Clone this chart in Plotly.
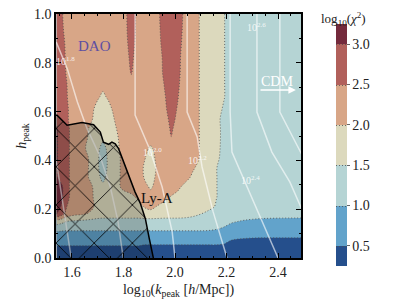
import plotly.graph_objects as go

# grid of log10(k_peak) and h_peak
k_peak = [1.54, 1.56, 1.58, 1.61, 1.64, 1.67, 1.70, 1.72, 1.74, 1.77, 1.80, 1.83, 1.86, 1.88, 1.905,
          1.93, 1.96, 1.985, 2.01, 2.04, 2.07, 2.10, 2.13, 2.16, 2.19, 2.22, 2.27, 2.33, 2.40, 2.49]
h_peak = [0.0, 0.03, 0.06, 0.09, 0.12, 0.15, 0.18, 0.21, 0.25, 0.29, 0.33, 0.37, 0.41, 0.45, 0.49,
          0.53, 0.57, 0.61, 0.66, 0.71, 0.76, 0.82, 0.88, 0.94, 1.0]

# log10(chi^2), one row per h_peak value (bottom to top)
log_chi2 = [
    [0.2, 0.2, 0.2, 0.2, 0.2, 0.2, 0.2, 0.2, 0.2, 0.2, 0.2, 0.2, 0.2, 0.2, 0.2, 0.2, 0.2, 0.2, 0.2, 0.2, 0.2, 0.2, 0.2, 0.2, 0.2, 0.2, 0.2, 0.2, 0.2, 0.2],
    [0.3, 0.3, 0.3, 0.3, 0.3, 0.3, 0.3, 0.3, 0.3, 0.3, 0.3, 0.3, 0.3, 0.3, 0.3, 0.3, 0.3, 0.3, 0.3, 0.3, 0.3, 0.3, 0.3, 0.3, 0.3, 0.3, 0.3, 0.3, 0.3, 0.3],
    [0.6, 0.6, 0.6, 0.6, 0.6, 0.6, 0.6, 0.6, 0.6, 0.6, 0.6, 0.6, 0.6, 0.55, 0.55, 0.55, 0.55, 0.55, 0.55, 0.55, 0.55, 0.55, 0.55, 0.55, 0.52, 0.42, 0.38, 0.35, 0.35, 0.35],
    [0.75, 0.75, 0.75, 0.75, 0.75, 0.75, 0.75, 0.75, 0.75, 0.75, 0.75, 0.75, 0.75, 0.75, 0.75, 0.75, 0.75, 0.75, 0.75, 0.75, 0.75, 0.75, 0.75, 0.72, 0.68, 0.6, 0.56, 0.55, 0.55, 0.55],
    [1.15, 1.12, 1.1, 1.1, 1.1, 1.1, 1.1, 1.1, 1.1, 1.1, 1.1, 1.1, 1.1, 1.1, 1.1, 1.1, 1.1, 1.1, 1.1, 1.1, 1.1, 1.1, 1.08, 1.03, 0.95, 0.82, 0.76, 0.72, 0.7, 0.7],
    [1.8, 1.65, 1.5, 1.45, 1.4, 1.35, 1.3, 1.3, 1.3, 1.3, 1.3, 1.3, 1.3, 1.3, 1.3, 1.3, 1.3, 1.3, 1.3, 1.3, 1.3, 1.28, 1.25, 1.22, 1.16, 1.05, 0.95, 0.85, 0.8, 0.78],
    [3.05, 2.7, 2.3, 2.1, 2.05, 1.95, 1.8, 1.75, 1.75, 1.75, 1.75, 1.75, 1.75, 1.8, 1.85, 1.8, 1.75, 1.75, 1.75, 1.7, 1.6, 1.5, 1.35, 1.3, 1.27, 1.25, 1.25, 1.25, 1.25, 1.25],
    [3.2, 2.95, 2.5, 2.25, 2.2, 2.1, 1.9, 1.75, 1.75, 1.75, 1.75, 1.75, 1.85, 2.02, 2.1, 1.98, 1.85, 1.75, 1.75, 1.75, 1.75, 1.75, 1.65, 1.45, 1.3, 1.27, 1.25, 1.25, 1.25, 1.25],
    [3.3, 3.1, 2.6, 2.3, 2.2, 2.1, 1.85, 1.75, 1.75, 1.75, 1.8, 1.9, 2.1, 2.2, 2.25, 2.25, 2.1, 1.98, 1.85, 1.75, 1.75, 1.75, 1.7, 1.52, 1.3, 1.27, 1.25, 1.25, 1.25, 1.25],
    [3.3, 3.1, 2.6, 2.3, 2.2, 2.1, 1.8, 1.6, 1.7, 1.85, 2.1, 2.2, 2.25, 2.2, 1.92, 2.2, 2.2, 2.15, 2.1, 1.85, 1.75, 1.75, 1.75, 1.52, 1.3, 1.27, 1.25, 1.25, 1.25, 1.25],
    [3.05, 2.8, 2.6, 2.3, 2.2, 1.95, 1.6, 1.4, 1.6, 1.8, 2.15, 2.25, 2.25, 1.98, 1.8, 2.1, 2.25, 2.25, 2.2, 2.15, 1.9, 1.8, 1.75, 1.52, 1.3, 1.27, 1.25, 1.25, 1.25, 1.25],
    [3.05, 2.8, 2.6, 2.3, 2.2, 1.95, 1.55, 1.3, 1.55, 1.8, 2.15, 2.25, 2.25, 1.95, 1.75, 2.05, 2.25, 2.3, 2.3, 2.25, 2.05, 1.85, 1.75, 1.52, 1.3, 1.27, 1.25, 1.25, 1.25, 1.25],
    [3.05, 2.8, 2.6, 2.3, 2.2, 1.95, 1.55, 1.3, 1.55, 1.8, 2.15, 2.25, 2.25, 2.05, 1.8, 2.1, 2.25, 2.3, 2.3, 2.3, 2.2, 1.95, 1.75, 1.6, 1.35, 1.3, 1.25, 1.25, 1.25, 1.25],
    [3.05, 2.8, 2.6, 2.3, 2.15, 1.8, 1.6, 1.35, 1.6, 1.85, 2.2, 2.3, 2.3, 2.2, 1.9, 2.2, 2.3, 2.3, 2.3, 2.3, 2.2, 1.95, 1.75, 1.62, 1.38, 1.3, 1.25, 1.25, 1.25, 1.25],
    [3.05, 2.8, 2.6, 2.3, 2.2, 1.9, 1.7, 1.6, 1.7, 1.9, 2.2, 2.3, 2.3, 2.3, 2.3, 2.3, 2.3, 2.49, 2.3, 2.3, 2.2, 1.95, 1.75, 1.62, 1.4, 1.3, 1.25, 1.25, 1.25, 1.25],
    [3.05, 2.8, 2.6, 2.3, 2.2, 1.95, 1.75, 1.75, 1.8, 1.98, 2.2, 2.3, 2.3, 2.3, 2.3, 2.3, 2.35, 2.54, 2.4, 2.3, 2.2, 1.95, 1.75, 1.62, 1.4, 1.3, 1.25, 1.25, 1.25, 1.25],
    [2.85, 2.72, 2.55, 2.3, 2.25, 2.1, 1.8, 1.75, 1.8, 2.05, 2.25, 2.3, 2.3, 2.3, 2.3, 2.3, 2.4, 2.58, 2.45, 2.3, 2.2, 1.95, 1.75, 1.6, 1.4, 1.3, 1.25, 1.25, 1.25, 1.25],
    [2.8, 2.7, 2.55, 2.3, 2.25, 2.15, 1.85, 1.8, 1.85, 2.15, 2.3, 2.3, 2.3, 2.3, 2.3, 2.3, 2.45, 2.62, 2.48, 2.3, 2.2, 1.95, 1.75, 1.65, 1.45, 1.3, 1.25, 1.25, 1.25, 1.25],
    [2.8, 2.7, 2.52, 2.25, 2.25, 2.15, 2.05, 1.92, 2.05, 2.2, 2.3, 2.35, 2.3, 2.3, 2.3, 2.3, 2.48, 2.65, 2.52, 2.3, 2.2, 1.95, 1.75, 1.7, 1.52, 1.3, 1.25, 1.25, 1.25, 1.25],
    [2.8, 2.7, 2.51, 2.25, 2.25, 2.2, 2.15, 2.1, 2.15, 2.25, 2.3, 2.4, 2.3, 2.3, 2.3, 2.3, 2.52, 2.68, 2.56, 2.3, 2.2, 1.95, 1.75, 1.7, 1.52, 1.3, 1.25, 1.25, 1.25, 1.25],
    [2.8, 2.7, 2.45, 2.25, 2.25, 2.25, 2.2, 2.2, 2.2, 2.25, 2.3, 2.52, 2.3, 2.3, 2.3, 2.3, 2.58, 2.72, 2.6, 2.3, 2.2, 1.95, 1.75, 1.7, 1.52, 1.3, 1.25, 1.25, 1.25, 1.25],
    [2.8, 2.68, 2.42, 2.25, 2.25, 2.25, 2.2, 2.2, 2.2, 2.25, 2.3, 2.58, 2.3, 2.3, 2.3, 2.3, 2.6, 2.75, 2.62, 2.3, 2.2, 1.95, 1.75, 1.7, 1.52, 1.3, 1.25, 1.25, 1.25, 1.25],
    [2.8, 2.65, 2.4, 2.25, 2.25, 2.25, 2.2, 2.2, 2.2, 2.25, 2.33, 2.64, 2.33, 2.3, 2.3, 2.35, 2.65, 2.78, 2.65, 2.35, 2.2, 1.95, 1.75, 1.7, 1.52, 1.3, 1.25, 1.25, 1.25, 1.25],
    [2.8, 2.6, 2.3, 2.25, 2.25, 2.25, 2.2, 2.2, 2.2, 2.25, 2.35, 2.68, 2.35, 2.3, 2.3, 2.38, 2.68, 2.8, 2.68, 2.38, 2.2, 1.95, 1.75, 1.7, 1.52, 1.3, 1.25, 1.25, 1.25, 1.25],
    [2.8, 2.55, 2.3, 2.25, 2.25, 2.25, 2.2, 2.2, 2.2, 2.25, 2.35, 2.7, 2.35, 2.3, 2.3, 2.4, 2.7, 2.8, 2.7, 2.4, 2.2, 1.95, 1.75, 1.7, 1.52, 1.3, 1.25, 1.25, 1.25, 1.25],
]

levels = [0.5, 1.0, 1.5, 2.0, 2.5, 3.0]
band_colors = ['#254f8c', '#62a3cb', '#b5d4d4', '#dcd9bd', '#d8a687', '#b1605b', '#742a3c']
x_ticks = [1.6, 1.8, 2.0, 2.2, 2.4]
y_ticks = [0.0, 0.2, 0.4, 0.6, 0.8, 1.0]

# white iso-lines of the second quantity (label, x points, y points)
iso_lines = [
    ("", [1.539, 1.575, 1.597], [0.40, 0.15, 0.0]),
    ("1.8", [1.539, 1.582, 1.621, 1.659, 1.710, 1.749, 1.779, 1.799], [0.885, 0.775, 0.639, 0.529, 0.414, 0.291, 0.148, 0.0]),
    ("2.0", [1.845, 1.845, 1.903, 1.950, 1.989, 2.000], [1.0, 0.586, 0.443, 0.291, 0.107, 0.0]),
    ("2.2", [2.047, 2.047, 2.086, 2.105, 2.148, 2.202], [1.0, 0.598, 0.496, 0.373, 0.189, 0.0]),
    ("2.4", [2.214, 2.214, 2.221, 2.272, 2.357, 2.400], [1.0, 0.598, 0.434, 0.311, 0.107, 0.0]),
    ("2.6", [2.318, 2.318, 2.376, 2.446, 2.492], [1.0, 0.598, 0.434, 0.311, 0.20]),
    ("", [2.407, 2.407, 2.473, 2.492], [1.0, 0.598, 0.463, 0.425]),
]
iso_label_x = [1.574, 1.911, 2.086, 2.292, 2.318]
iso_label_y = [0.807, 0.434, 0.400, 0.320, 0.947]
iso_label_t = ["1.8", "2.0", "2.2", "2.4", "2.6"]

# Lyman-alpha excluded region boundary
lya_x = [1.53, 1.542, 1.581, 1.639, 1.684, 1.710, 1.722, 1.742, 1.755, 1.768, 1.781, 1.820, 1.845, 1.865, 1.885, 1.900, 1.916, 1.916, 1.53]
lya_y = [0.586, 0.585, 0.544, 0.555, 0.546, 0.516, 0.475, 0.466, 0.475, 0.468, 0.448, 0.340, 0.270, 0.225, 0.160, 0.080, 0.0, -0.03, -0.03]

FONT = "Liberation Serif"

fig = go.Figure()
fig.add_trace(go.Contour(
    x=k_peak, y=h_peak, z=log_chi2,
    autocontour=False,
    contours=dict(start=levels[0], end=levels[-1], size=0.5, coloring='fill', showlines=True),
    colorscale=[[i / 6, c] for i, c in enumerate(band_colors)],
    line=dict(color='rgba(80,80,80,0.8)', width=1, dash='1px,2px'),
    hoverinfo='skip',
    colorbar=dict(
        thickness=11, thicknessmode='pixels', len=242, lenmode='pixels',
        x=1.143, xanchor='left', xpad=0, y=0.463, yanchor='middle', ypad=0,
        outlinewidth=0, tickmode='array', tickvals=levels,
        ticktext=['%.1f' % v for v in levels],
        ticks='outside', ticklen=3, tickcolor='#666',
        tickfont=dict(family=FONT, size=14, color='#222'),
    ),
))

for lab, xs, ys in iso_lines:
    fig.add_trace(go.Scatter(x=xs, y=ys, mode='lines', hoverinfo='skip', showlegend=False,
                             line=dict(color='rgba(255,255,255,0.6)', width=1.5)))

fig.add_trace(go.Scatter(
    x=lya_x, y=lya_y, mode='lines', fill='toself', hoverinfo='skip', showlegend=False,
    fillcolor='rgba(0,0,0,0.2)',
    line=dict(color='black', width=1.5),
    fillpattern=dict(shape='x', size=27, solidity=0.06, fgcolor='black',
                     bgcolor='rgba(0,0,0,0.2)', fillmode='replace'),
))

ann = []
for lx, ly, lt in zip(iso_label_x, iso_label_y, iso_label_t):
    ann.append(dict(x=lx, y=ly, xref='x', yref='y', text='10<sup>%s</sup>' % lt, showarrow=False,
                    font=dict(family=FONT, size=10, color='rgba(255,255,255,0.85)')))
ann.append(dict(x=1.687, y=0.869, xref='x', yref='y', text='DAO', showarrow=False,
                font=dict(family=FONT, size=15, color='#5e4fa2')))
ann.append(dict(x=1.931, y=0.246, xref='x', yref='y', text='Ly-A', showarrow=False,
                font=dict(family=FONT, size=15, color='#111')))
ann.append(dict(x=2.395, y=0.725, xref='x', yref='y', text='CDM', showarrow=False,
                font=dict(family=FONT, size=14, color='white')))
ann.append(dict(x=2.469, y=0.689, ax=2.326, ay=0.689, xref='x', yref='y', axref='x', ayref='y',
                text='', showarrow=True, arrowhead=2, arrowsize=1, arrowwidth=1.5, arrowcolor='white'))
ann.append(dict(x=1.075, y=0.978, xref='paper', yref='paper', xanchor='left', yanchor='middle',
                text='log<sub>10</sub>(<i>χ</i><sup>2</sup>)',
                showarrow=False, font=dict(family=FONT, size=13, color='#222')))

axis_common = dict(showline=True, linecolor='black', linewidth=1.5, mirror='ticks',
                   ticks='inside', ticklen=5, tickwidth=1, tickcolor='black',
                   showgrid=False, zeroline=False, automargin=False, tickmode='array',
                   ticklabeloverflow='allow',
                   tickfont=dict(family=FONT, size=14, color='#222'))

# page body adds an 8px offset, so the figure is 8px smaller than the window
fig.update_layout(
    width=391, height=291,
    margin=dict(l=48, r=98, t=6, b=41),
    paper_bgcolor='white', plot_bgcolor='white',
    font=dict(family=FONT, size=14, color='#222'),
    showlegend=False,
    annotations=ann,
    xaxis=dict(range=[1.538, 2.489], tickvals=x_ticks, ticktext=['%.1f' % v for v in x_ticks],
               minor=dict(ticks='inside', ticklen=2.5, tickmode='linear', tick0=1.55, dtick=0.05, tickcolor='black'),
               title=dict(text='log<sub>10</sub>(<i>k</i><sub>peak</sub> [<i>h</i>/Mpc])', standoff=6,
                          font=dict(family=FONT, size=14)),
               **axis_common),
    yaxis=dict(range=[0, 1], tickvals=y_ticks, ticktext=['%.1f' % v for v in y_ticks],
               minor=dict(ticks='inside', ticklen=2.5, tickmode='linear', tick0=0.1, dtick=0.1, tickcolor='black'),
               title=dict(text='<i>h</i><sub>peak</sub>', standoff=4, font=dict(family=FONT, size=14)),
               **axis_common),
)

fig.write_html("out.html")
